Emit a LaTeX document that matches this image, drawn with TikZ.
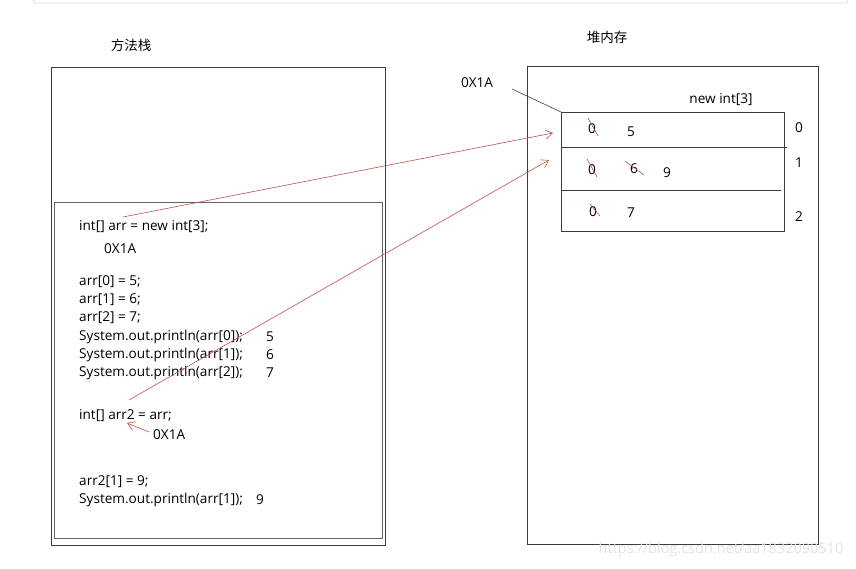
\documentclass[tikz,border=0pt]{standalone}
\usepackage{fontspec}
\setmainfont{Open Sans}
\newfontfamily\cjkfont{Noto Sans CJK SC}
\usetikzlibrary{arrows.meta}
\definecolor{boxline}{HTML}{3C3C3C}
\definecolor{redline}{HTML}{C0504D}
\definecolor{topline}{HTML}{DDDDDD}
\tikzset{
  codetext/.style={anchor=west, inner sep=0pt, yshift=-2pt, font=\fontsize{13.6}{15}\selectfont},
  celltext/.style={inner sep=0pt, yshift=-2pt, font=\fontsize{13.6}{15}\selectfont},
  cjktext/.style={inner sep=0pt, font=\cjkfont\fontsize{13.5}{15}\selectfont},
  frame/.style={draw=boxline, line width=0.9pt},
  redarrow/.style={draw=redline, line width=0.6pt, -{Straight Barb[length=7pt,width=9pt]}},
  cross/.style={draw=redline, line width=0.6pt},
}
\begin{document}
\begin{tikzpicture}[x=1pt,y=-1pt]
\useasboundingbox (0,0) rectangle (856,568);
\fill[white] (0,0) rectangle (856,568);
% top strip
\begin{scope}
\clip (0,0) rectangle (856,10);
\draw[topline, line width=0.8pt, rounded corners=3pt] (33,-10) rectangle (848,3);
\end{scope}
% titles
\node[cjktext] (stacktitle) at (131,45) {方法栈};
\node[cjktext] (heaptitle) at (607,37) {堆内存};
% frames
\draw[frame] (51,67) rectangle (385,545);
\draw[frame, draw=boxline!80] (54,202) rectangle (382,538);
\draw[frame] (527,66) rectangle (818,544);
% array box
\node[frame, minimum width=223pt, minimum height=119pt, inner sep=0pt, anchor=north west] (arr) at (561,112) {};
\draw[boxline, line width=0.8pt] (561,147) -- (787,147);
\draw[boxline, line width=0.8pt] (561,190) -- (781,190);
\node[celltext] (newint) at (721,98) {new int[3]};
\node[celltext] (i0) at (799,126) {0};
\node[celltext] (i1) at (799,161) {1};
\node[celltext] (i2) at (799,215) {2};
\node[celltext] (addr) at (477,81) {0X1A};
\draw[boxline, line width=0.6pt] (512,89) -- (arr.north west);
% cells
\node[celltext] (c00) at (592,127) {0};
\node[celltext] (c01) at (631,130) {5};
\node[celltext] (c10) at (592,168) {0};
\node[celltext] (c11) at (634,167) {6};
\node[celltext] (c12) at (667,171) {9};
\node[celltext] (c20) at (593,210) {0};
\node[celltext] (c21) at (631,211) {7};
\draw[cross] (588,118) -- (598,136);
\draw[cross] (587,159) -- (597,177);
\draw[cross] (590,204) -- (600,216);
\draw[cross] (625,161) -- (644,175);
% code
\node[codetext] (l1) at (79,225) {int[] arr = new int[3];};
\node[codetext] (l1a) at (104,247) {0X1A};
\node[codetext] (l2) at (79,280) {arr[0] = 5;};
\node[codetext] (l3) at (79,298) {arr[1] = 6;};
\node[codetext] (l4) at (79,316) {arr[2] = 7;};
\node[codetext] (l5) at (79,335) {System.out.println(arr[0]);};
\node[codetext] (o5) at (266,335) {5};
\node[codetext] (l6) at (79,353) {System.out.println(arr[1]);};
\node[codetext] (o6) at (266,353) {6};
\node[codetext] (l7) at (79,371) {System.out.println(arr[2]);};
\node[codetext] (o7) at (266,371) {7};
\node[codetext] (l8) at (79,414) {int[] arr2 = arr;};
\node[codetext] (l8a) at (153,433) {0X1A};
\node[codetext] (l9) at (79,480) {arr2[1] = 9;};
\node[codetext] (l10) at (79,498) {System.out.println(arr[1]);};
\node[codetext] (o10) at (256,498) {9};
% red arrows
\coordinate (s1) at (123,217);
\coordinate (e1) at (553,133);
\coordinate (s2) at (129,400);
\coordinate (e2) at (549,160);
\coordinate (s3) at (149,432);
\coordinate (e3) at (127,423);
\draw[redarrow] (s1) -- (e1);
\draw[redarrow] (s2) -- (e2);
\draw[redarrow] (s3) -- (e3);
% watermark
\node[inner sep=0pt, text=gray!22, font=\fontsize{14.5}{16}\selectfont] (wm) at (721,550) {https://blog.csdn.net/aa1832090510};
\end{tikzpicture}
\end{document}
